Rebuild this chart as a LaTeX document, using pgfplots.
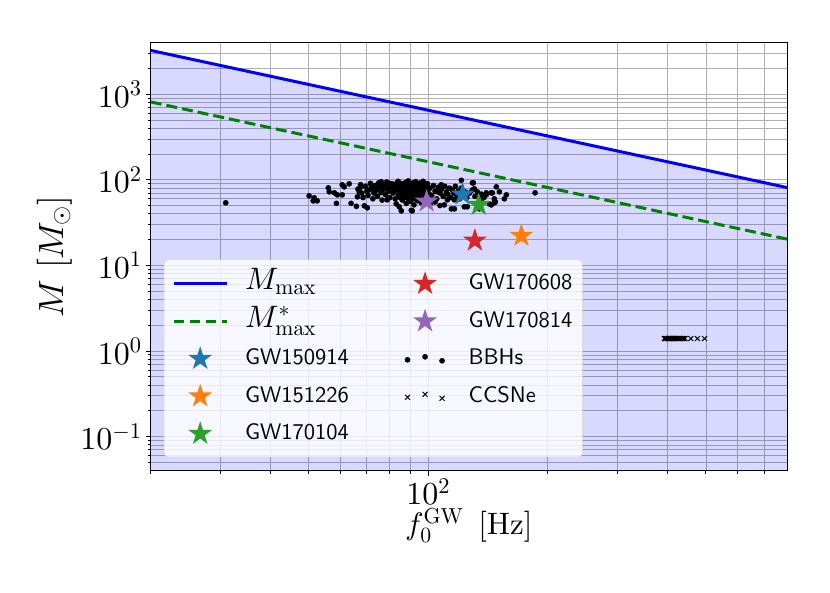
\documentclass[border=0pt]{standalone}
\usepackage[no-math]{fontspec}
\usepackage{pgfplots}
\pgfplotsset{compat=1.18}
\DeclareFontShape{OT1}{cmr}{m}{n}{<->cmr10}{}
\DeclareFontShape{OML}{cmm}{m}{it}{<->cmmi10}{}
\DeclareFontShape{OMS}{cmsy}{m}{n}{<->cmsy10}{}
\DeclareFontFamily{OT1}{cmss}{}
\DeclareFontShape{OT1}{cmss}{m}{n}{<->cmss10}{}
\newcommand{\cmsans}{\fontencoding{OT1}\fontfamily{cmss}\fontseries{m}\fontshape{n}\selectfont}
\definecolor{tabblue}{HTML}{1F77B4}
\definecolor{taborange}{HTML}{FF7F0E}
\definecolor{tabgreen}{HTML}{2CA02C}
\definecolor{tabred}{HTML}{D62728}
\definecolor{tabpurple}{HTML}{9467BD}
\definecolor{mgreen}{RGB}{0,128,0}
\pgfdeclareplotmark{mystar}{%
  \pgfpathmoveto{\pgfpointpolar{90}{\pgfplotmarksize}}%
  \pgfpathlineto{\pgfpointpolar{126}{0.381966\pgfplotmarksize}}%
  \pgfpathlineto{\pgfpointpolar{162}{\pgfplotmarksize}}%
  \pgfpathlineto{\pgfpointpolar{198}{0.381966\pgfplotmarksize}}%
  \pgfpathlineto{\pgfpointpolar{234}{\pgfplotmarksize}}%
  \pgfpathlineto{\pgfpointpolar{270}{0.381966\pgfplotmarksize}}%
  \pgfpathlineto{\pgfpointpolar{306}{\pgfplotmarksize}}%
  \pgfpathlineto{\pgfpointpolar{342}{0.381966\pgfplotmarksize}}%
  \pgfpathlineto{\pgfpointpolar{18}{\pgfplotmarksize}}%
  \pgfpathlineto{\pgfpointpolar{54}{0.381966\pgfplotmarksize}}%
  \pgfpathclose
  \pgfusepathqfill}
\pgfplotsset{
  linelegend/.style={legend image code/.code={\draw[fill opacity=1,mark repeat=2,mark phase=2,##1] plot coordinates {(0pt,0pt) (26.5pt,0pt) (53pt,0pt)};}},
  threemarks/.style={legend image code/.code={\draw[fill opacity=1,##1] plot coordinates {(9pt,-1pt) (26.5pt,2pt) (43.5pt,-2pt)};}},
}
\begin{document}
\begin{tikzpicture}
\path[use as bounding box] (0,0) rectangle (830pt,593pt);
\begin{axis}[
  at={(150.7pt,122.3pt)}, anchor=south west,
  scale only axis, width=636.3pt, height=428pt,
  xmode=log, ymode=log,
  xmin=20, xmax=800, ymin=0.04, ymax=4000,
  xtick={100},
  minor xtick={20,30,40,50,60,70,80,90,200,300,400,500,600,700},
  ytick={0.1,1,10,100,1000},
  minor ytick={0.05,0.06,0.07,0.08,0.09,0.2,0.3,0.4,0.5,0.6,0.7,0.8,0.9,2,3,4,5,6,7,8,9,20,30,40,50,60,70,80,90,200,300,400,500,600,700,800,900,2000,3000},
  grid=both,
  major grid style={color=black!31, line width=0.8pt},
  minor grid style={color=black!31, line width=0.8pt},
  axis line style={black, line width=0.8pt},
  tick pos=left, tick align=outside,
  major tick length=5pt, minor tick length=3pt,
  tick style={black, line width=0.9pt},
  ticklabel style={font=\fontsize{32}{32}\selectfont},
  xticklabel style={inner sep=0pt, yshift=-3pt},
  yticklabel style={inner sep=0pt, xshift=-4pt},
  xlabel={$f_0^{\mathrm{GW}}\ \,[\mathrm{Hz}]$},
  ylabel={$M\ [M_\odot]$},
  xlabel style={font=\fontsize{31}{36}\selectfont, at={(axis description cs:0.5,-0.1495)}, anchor=base, inner sep=0pt},
  ylabel style={font=\fontsize{35}{40}\selectfont, at={(axis description cs:-0.1237,0.5)}, anchor=south, inner sep=0pt},
  legend columns=2,
  legend cell align=left,
  linelegend,
  legend style={at={(rel axis cs:0.0209,0.032)}, anchor=south west,
    font=\cmsans\fontsize{22.5}{26}\selectfont,
    fill=white, fill opacity=0.8, draw opacity=1, text opacity=1,
    draw=black!15, rounded corners=4pt, inner xsep=8pt, inner ysep=11.5pt,
    nodes={inner sep=2pt, text height=15.6pt, text depth=3.4pt},
    row sep=13.5pt, column sep=0pt,
    /tikz/column 1/.style={column sep=15pt},
    /tikz/column 2/.style={column sep=54pt},
    /tikz/column 3/.style={column sep=22pt}},
]
% allowed region
\addplot[draw=none, fill=blue, fill opacity=0.15, forget plot]
  coordinates {(20,3250) (800,81.25) (800,0.01) (20,0.01)};
% M_max
\addplot[blue, line width=3pt, forget plot] coordinates {(20,3250) (800,81.25)};
% M*_max
\addplot[mgreen, line width=3pt, dash pattern=on 11pt off 5pt, forget plot] coordinates {(20,812.5) (800,20.31)};
% BBHs
\addplot[only marks, mark=*, mark size=2.6pt, black, forget plot] coordinates {
(50.1,65.0)(51.6,61.6)(51.3,56.8)(52.5,56.8)(56.0,80.6)(56.3,72.4)(58.0,70.5)(59.0,66.8)
(58.7,53.1)(60.7,87.4)(61.4,82.8)(60.7,66.8)(63.2,89.8)(63.9,53.1)(65.9,49.0)(67.0,72.4)
(67.8,82.8)(66.3,63.3)(69.0,49.7)(70.2,47.1)(71.0,76.4)(71.8,87.4)(73.1,72.4)(73.9,82.8)
(76.1,94.8)(76.6,76.4)(78.3,87.4)(78.8,58.4)(81.3,87.4)(83.0,52.4)(84.5,48.4)(85.5,66.8)
(85.5,43.4)(90.6,44.0)(88.5,87.4)(99.0,89.8)(105.3,72.4)(107.8,87.4)(111.7,58.4)(114.3,45.8)
(109.7,51.0)(121.1,98.7)(129.1,92.2)(125.3,48.4)(130.6,78.5)(134.4,45.8)(139.9,66.8)(142.4,52.4)
(144.9,70.5)(146.6,60.0)(148.3,82.8)(151.0,72.4)(155.4,60.0)(147.5,55.3)(136.0,60.0)(116.3,58.4)
(118.9,66.8)(129.8,92.2)(157.2,66.8)(144.0,70.5)(139.9,70.5)(146.6,53.9)(144.0,51.0)(123.2,48.4)
(116.3,45.8)(91.1,43.4)(185.7,70.5)(30.9,53.9)
(66.5,78)(67.5,88)(68,70)(68.5,62)(69.5,84)(70,74)(70.5,66)(71.5,91)(72,80)(72.5,60)(73,70)
(73.5,86)(74,76)(74.5,64)(75,92)(75.5,82)(76,71)(76.5,58)(77,88)(77.5,78)(78,67)(78.5,94)
(79,84)(79.5,74)(80,62)(80.5,90)
(81,80)(81.5,70)(82,88)(82.5,60)(83,76)(83.5,93)(84,66)(84.5,84)(85,72)(85.5,90)(86,78)(86,58)
(86.5,68)(87,86)(87.5,74)(88,94)(88,62)(88.5,80)(89,70)(89.5,88)(90,76)(90,56)(90.5,66)(91,84)
(91.5,92)(92,72)(92,60)(92.5,80)(93,68)(93.5,88)(94,76)(94,57)(94.5,64)(95,84)(95.5,92)(96,70)
(96.5,78)(97,62)(97.5,86)(98,74)(98.5,66)(99,82)(99.5,90)(100,58)(100,70)
(82,74)(84,80)(86,64)(88,86)(90,82)(92,88)(94,70)(96,84)(98,80)(83,84)(85,62)(87,68)(89,60)
(91,78)(93,74)(95,80)(97,72)(99,76)(81,90)(87,91)(93,64)(97,88)
(84,96)(89,97)(93,95)(97,96)(79,93)
(88,53)(92,51)(96,54)(101,52)(104,55)(107,50)
(101,80)(102,66)(103,86)(104,74)(105,60)(106,82)(107,70)(108,78)(109,64)(110,84)(111,72)(112,68)
(113,80)(114,62)(115,76)(116,70)(117,84)(118,64)(119,74)(120,60)(121,80)(122,68)(124,72)(125,62)
(127,70)(129,76)(131,64)(133,72)(136,68)(138,62)
};
% CCSNe
\addplot[only marks, mark=x, mark size=3.5pt, black, line width=1pt, forget plot] coordinates {
(393,1.40)(396,1.40)(399,1.40)(402,1.40)(405,1.40)(408,1.40)(411,1.40)(414,1.40)(417,1.40)
(420,1.40)(424,1.40)(428,1.40)(432,1.40)(436,1.40)(440,1.40)(443,1.40)(458,1.40)(476,1.40)(496,1.40)
};
% GW events
\addplot[only marks, mark=mystar, mark size=12.5pt, color=tabblue, forget plot] coordinates {(122,67.5)};
\addplot[only marks, mark=mystar, mark size=12.5pt, color=taborange, forget plot] coordinates {(171.5,22.2)};
\addplot[only marks, mark=mystar, mark size=12.5pt, color=tabgreen, forget plot] coordinates {(134,51)};
\addplot[only marks, mark=mystar, mark size=12.5pt, color=tabred, forget plot] coordinates {(131,19.5)};
\addplot[only marks, mark=mystar, mark size=12.5pt, color=tabpurple, forget plot] coordinates {(99,55.8)};
% legend (row-wise order for two columns)
\addlegendimage{blue, line width=3pt}
\addlegendentry{\fontsize{31}{32}\selectfont$M_{\max}$}
\addlegendimage{only marks, mark=mystar, mark size=12.5pt, color=tabred}
\addlegendentry{GW170608}
\addlegendimage{mgreen, line width=3pt, dash pattern=on 10pt off 6pt}
\addlegendentry{\fontsize{31}{32}\selectfont$M^*_{\max}$}
\addlegendimage{only marks, mark=mystar, mark size=12.5pt, color=tabpurple}
\addlegendentry{GW170814}
\addlegendimage{only marks, mark=mystar, mark size=12.5pt, color=tabblue}
\addlegendentry{GW150914}
\addlegendimage{only marks, mark=*, mark size=2.6pt, black, threemarks}
\addlegendentry{BBHs}
\addlegendimage{only marks, mark=mystar, mark size=12.5pt, color=taborange}
\addlegendentry{GW151226}
\addlegendimage{only marks, mark=x, mark size=3.5pt, black, line width=1pt, threemarks}
\addlegendentry{CCSNe}
\addlegendimage{only marks, mark=mystar, mark size=12.5pt, color=tabgreen}
\addlegendentry{GW170104}
\end{axis}
\end{tikzpicture}
\end{document}
